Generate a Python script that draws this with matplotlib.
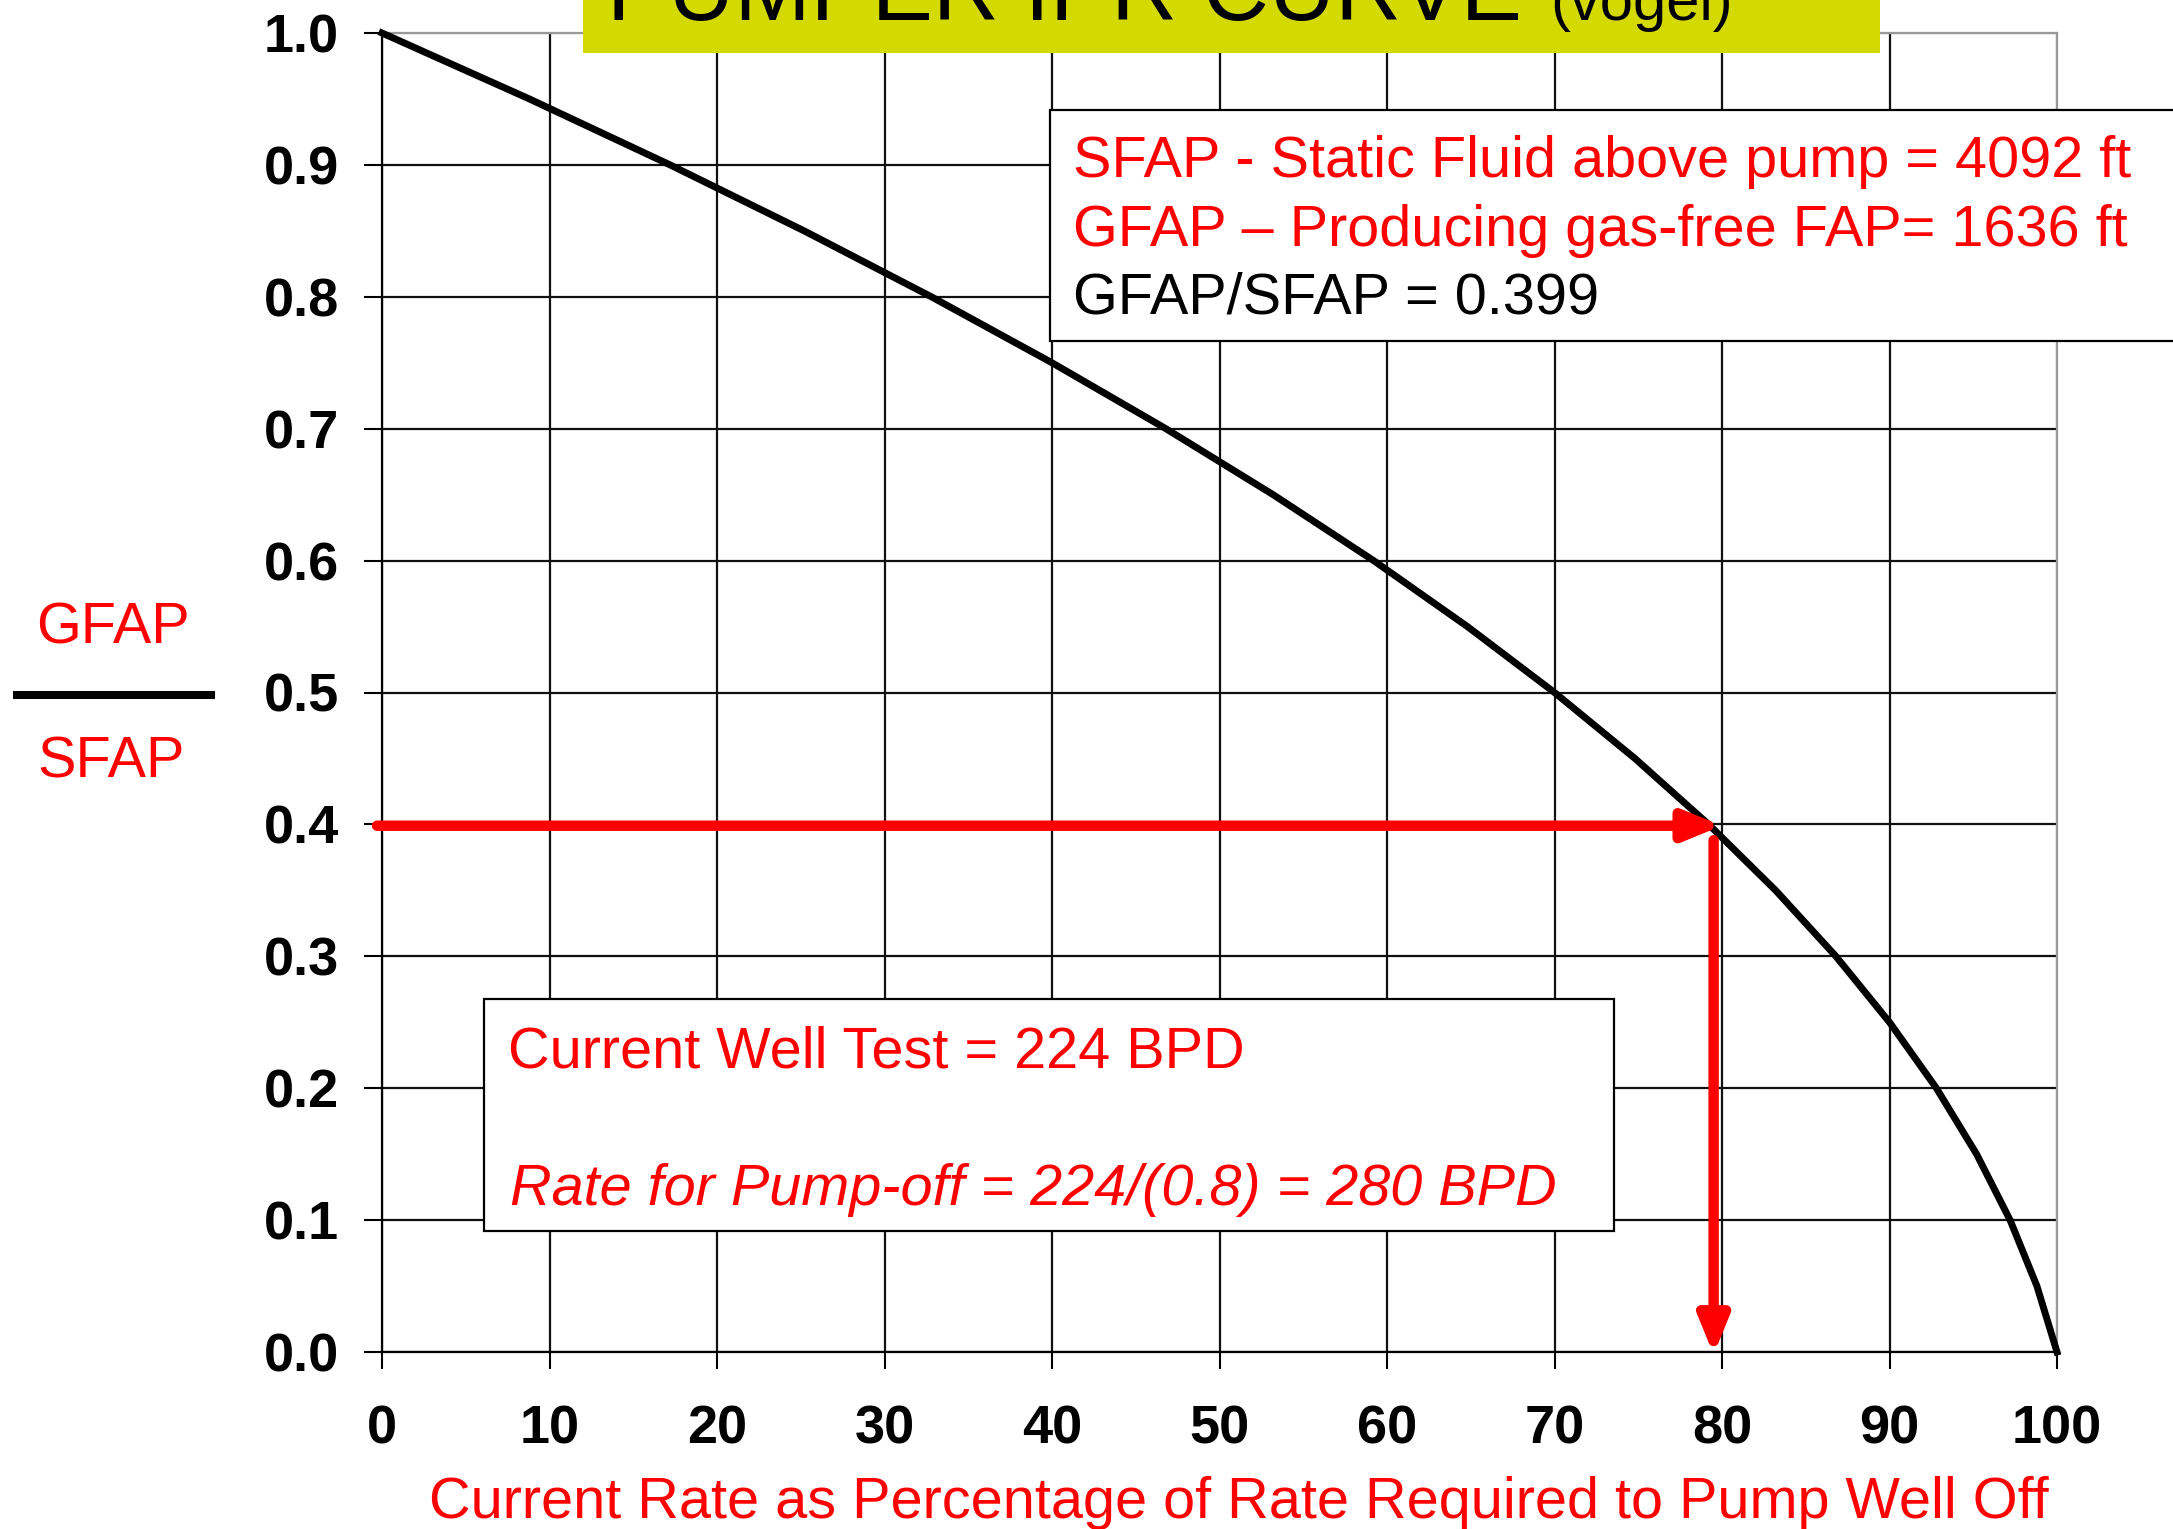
import matplotlib
matplotlib.use("Agg")
import matplotlib.pyplot as plt
from matplotlib.patches import Rectangle

plt.rcParams['font.family'] = ['Liberation Sans', 'DejaVu Sans']

# curve: GFAP/SFAP vs rate (% of pump-off rate)
ratio = [1.0, 0.95, 0.9, 0.85, 0.8, 0.75, 0.7, 0.65, 0.6, 0.55, 0.5,
         0.45, 0.4, 0.35, 0.3, 0.25, 0.2, 0.15, 0.1, 0.05, 0.0]
rate = [0, 8.8, 17.2, 25.2, 32.8, 40.0, 46.8, 53.2, 59.2, 64.8, 70.0,
        74.8, 79.2, 83.2, 86.8, 90.0, 92.8, 95.2, 97.2, 98.8, 100]

xticks = [0, 10, 20, 30, 40, 50, 60, 70, 80, 90, 100]
yticks = [0.0, 0.1, 0.2, 0.3, 0.4, 0.5, 0.6, 0.7, 0.8, 0.9, 1.0]

test_ratio = 0.399
test_rate = 79.5

title = "PUMPER IPR CURVE"
subtitle = "(vogel)"
info_lines = ["SFAP - Static Fluid above pump = 4092 ft",
              "GFAP \u2013 Producing gas-free FAP= 1636 ft",
              "GFAP/SFAP = 0.399"]
info_colors = ["red", "red", "black"]
well_test = "Current Well Test = 224 BPD"
pumpoff = "Rate for Pump-off = 224/(0.8) = 280 BPD"
xlabel = "Current Rate as Percentage of Rate Required to Pump Well Off"

W, H = 2173, 1529
fig = plt.figure(figsize=(W / 100, H / 100), dpi=100)


def fx(px):
    return px / W


def fy(py):
    return 1 - py / H


ax = fig.add_axes([fx(382), fy(1352), fx(2057 - 382), (1352 - 33) / H])
ax.plot(rate, ratio, color='black', lw=5, zorder=4, clip_on=False,
        solid_joinstyle='round')
ax.set_xlim(0, 100)
ax.set_ylim(0, 1)
ax.set_xticks(xticks)
ax.set_yticks(yticks)
ax.set_xticklabels([str(t) for t in xticks], fontsize=39, fontweight='bold')
ax.set_yticklabels([f"{t:.1f}" for t in yticks], fontsize=39, fontweight='bold')
ax.tick_params(axis='x', length=12, width=1.5, pad=26, direction='out')
ax.tick_params(axis='y', length=13, width=1.5, pad=18, direction='out')
ax.grid(True, color='#111111', lw=1.6)
ax.xaxis.get_gridlines()[-1].set_color('#999999')
ax.yaxis.get_gridlines()[-1].set_color('#999999')
for s in ['left', 'bottom']:
    ax.spines[s].set_linewidth(1.6)
for s in ['top', 'right']:
    ax.spines[s].set_color('#999999')
    ax.spines[s].set_linewidth(1.6)

# red arrows
ax.annotate('', xy=(test_rate + 0.5, test_ratio), xytext=(-0.3, test_ratio),
            arrowprops=dict(arrowstyle='-|>,head_length=1.1,head_width=0.45',
                            color='red', lw=7.5, mutation_scale=20,
                            shrinkA=0, shrinkB=0), annotation_clip=False, zorder=5)
ax.annotate('', xy=(test_rate, -0.002), xytext=(test_rate, 0.388),
            arrowprops=dict(arrowstyle='-|>,head_length=1.1,head_width=0.45',
                            color='red', lw=7.5, mutation_scale=20,
                            shrinkA=0, shrinkB=0), annotation_clip=False, zorder=5)

# title bar
fig.add_artist(Rectangle((fx(583), fy(53)), fx(1880 - 583), 53 / H,
                         transform=fig.transFigure, facecolor='#d4d900',
                         edgecolor='none', zorder=5))
fig.text(fx(607), fy(20), title, fontsize=66, color='black', va='baseline', zorder=6)
fig.text(fx(1550), fy(20), subtitle, fontsize=43, color='black', va='baseline', zorder=6)

# info box top right
fig.add_artist(Rectangle((fx(1050), fy(341)), fx(1200), (341 - 110) / H,
                         transform=fig.transFigure, facecolor='white',
                         edgecolor='black', lw=1.6, zorder=5))
for i, (line, c) in enumerate(zip(info_lines, info_colors)):
    fig.text(fx(1073), fy(177 + 68.5 * i), line, fontsize=41.5, color=c,
             va='baseline', zorder=6)

# lower box
fig.add_artist(Rectangle((fx(484), fy(1231)), fx(1614 - 484), (1231 - 999) / H,
                         transform=fig.transFigure, facecolor='white',
                         edgecolor='black', lw=1.6, zorder=5))
fig.text(fx(508), fy(1067), well_test, fontsize=41.5, color='red', va='baseline', zorder=6)
fig.text(fx(510), fy(1205), pumpoff, fontsize=41.5, color='red', style='italic',
         va='baseline', zorder=6)

# y label as a fraction
fig.text(fx(113), fy(644), "GFAP", fontsize=41.5, color='red', ha='center', va='baseline')
fig.text(fx(111), fy(778), "SFAP", fontsize=41.5, color='red', ha='center', va='baseline')
fig.add_artist(plt.Line2D([fx(17), fx(211)], [fy(695), fy(695)], color='black',
                          lw=5.8, transform=fig.transFigure))

fig.text(fx(1239), fy(1518), xlabel, fontsize=41.5, color='red', ha='center', va='baseline')

fig.savefig('out.png', dpi=100)
